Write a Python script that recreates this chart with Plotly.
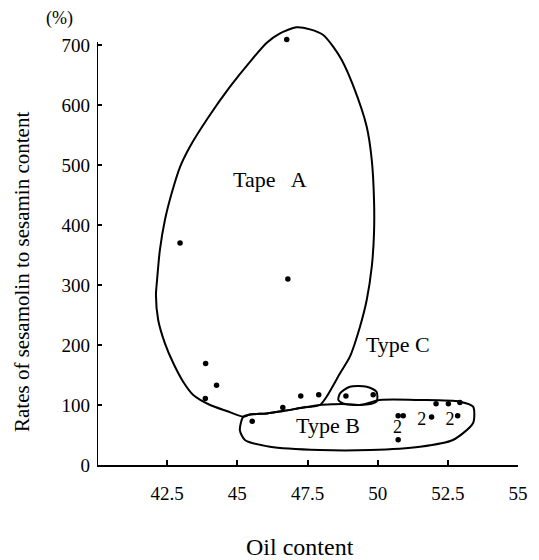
import plotly.graph_objects as go

# ---- data ----
x_ticks = [42.5, 45, 47.5, 50, 52.5, 55]
y_ticks = [0, 100, 200, 300, 400, 500, 600, 700]
y_axis_top = 705

pts_oil = [46.76, 42.96, 46.80, 43.87, 44.26, 43.86, 45.53, 46.62, 47.26, 47.90,
           48.87, 49.84, 50.73, 50.91, 50.73, 51.92, 52.08, 52.52, 52.93, 52.85]
pts_rate = [709, 370, 310, 169, 133, 111, 73, 96, 115, 117,
            115, 117, 82, 82, 42, 80, 102, 102, 104, 82]

# labels "2" marking two overlapping samples
dup_oil = [50.71, 51.57, 52.58]
dup_rate = [61, 75, 75]

# hand-drawn group outlines (oil content, rate)
typeA_oil = [47.94, 48.18, 48.66, 49.01, 49.37, 49.61, 49.79, 49.87, 49.87, 49.79,
             49.61, 49.12, 48.72, 48.42, 48.06, 47.59, 47.11, 46.52, 46.05, 45.45,
             44.74, 43.95, 43.31, 42.96, 42.66, 42.42, 42.24, 42.14, 42.10, 42.18,
             42.42, 42.72, 43.07, 43.43, 44.03, 44.62, 45.21, 45.45, 46.05, 46.64,
             47.35, 47.94]
typeA_rate = [100, 113.8, 152.8, 180.5, 230.5, 275, 330.5, 386.7, 441.7, 508.3,
              563.8, 633, 675, 697, 716.7, 726, 729.5, 719.5, 703.8, 672,
              630.5, 578.3, 530.5, 497, 452.8, 408.3, 358.3, 308.3, 283.3, 241.7,
              202.8, 169.5, 138.8, 116.7, 100, 90, 80.5, 84, 86, 90,
              95.8, 100]

typeB_oil = [45.21, 45.09, 45.27, 46.16, 47.94, 49.73, 51.51, 52.68, 53.40, 53.40,
             52.93, 51.51, 50.08, 49.37, 48.76, 48.41, 47.94, 47.35, 46.64, 46.05,
             45.45, 45.21]
typeB_rate = [80.5, 58.3, 41.7, 30.5, 25, 25, 30.5, 41.7, 70, 97.2,
              105.5, 108.3, 108.3, 100, 101.7, 101.2, 100, 95.8, 90, 86,
              84, 80.5]

typeC_oil = [49.96, 49.96, 49.61, 49.01, 48.66, 48.60, 48.77, 49.37, 49.96]
typeC_rate = [105.5, 122.2, 130.5, 130.5, 119.5, 108.3, 102.8, 100, 105.5]

group_names = ["Tape   A", "Type B", "Type C"]
group_label_oil = [46.16, 48.23, 50.72]
group_label_rate = [472, 62, 197]

FONT = "Liberation Serif"

fig = go.Figure()
for gx, gy in [(typeA_oil, typeA_rate), (typeB_oil, typeB_rate), (typeC_oil, typeC_rate)]:
    fig.add_trace(go.Scatter(x=gx, y=gy, mode="lines",
                             line=dict(color="black", width=2, shape="spline", smoothing=0.7),
                             hoverinfo="skip", showlegend=False))

fig.add_trace(go.Scatter(x=pts_oil, y=pts_rate, mode="markers",
                         marker=dict(color="black", size=5.5, symbol="circle"),
                         showlegend=False))

fig.add_trace(go.Scatter(x=dup_oil, y=dup_rate, mode="text", text=["2"] * len(dup_oil),
                         textfont=dict(family=FONT, size=18, color="black"),
                         showlegend=False, hoverinfo="skip"))

fig.add_trace(go.Scatter(x=group_label_oil, y=group_label_rate, mode="text",
                         text=group_names,
                         textfont=dict(family=FONT, size=22, color="black"),
                         showlegend=False, hoverinfo="skip"))

fig.update_layout(
    width=531, height=552,
    margin=dict(l=89, r=21, t=10, b=95),
    paper_bgcolor="white", plot_bgcolor="white",
    font=dict(family=FONT, size=19, color="black"),
    showlegend=False,
    xaxis=dict(range=[40, 55], tickvals=x_ticks, ticktext=[str(v) for v in x_ticks],
               showline=True, linewidth=2, linecolor="black", ticks="inside",
               ticklen=5, tickwidth=1.5, tickcolor="black", showgrid=False,
               zeroline=False, ticklabelstandoff=10,
               tickfont=dict(family=FONT, size=19)),
    yaxis=dict(range=[0, 745], tickvals=y_ticks,
               showline=False, ticks="inside",
               ticklen=5, tickwidth=1.5, tickcolor="black", showgrid=False,
               zeroline=False, ticklabelstandoff=6,
               tickfont=dict(family=FONT, size=19)),
    shapes=[dict(type="line", xref="x", yref="y", x0=40, x1=40, y0=0, y1=y_axis_top,
                 line=dict(color="black", width=2))],
    annotations=[
        dict(text="Rates of sesamolin to sesamin content", xref="paper", yref="paper",
             x=-0.178, y=0.432, xanchor="center", yanchor="middle", textangle=-90,
             showarrow=False, font=dict(family=FONT, size=21)),
        dict(text="Oil content", xref="paper", yref="paper", x=0.482, y=-0.183,
             xanchor="center", yanchor="middle",
             showarrow=False, font=dict(family=FONT, size=24)),
        dict(text="(%)", xref="paper", yref="paper", x=-0.088, y=1.0,
             xanchor="center", yanchor="middle",
             showarrow=False, font=dict(family=FONT, size=18)),
    ],
)

fig.write_html("out.html")
